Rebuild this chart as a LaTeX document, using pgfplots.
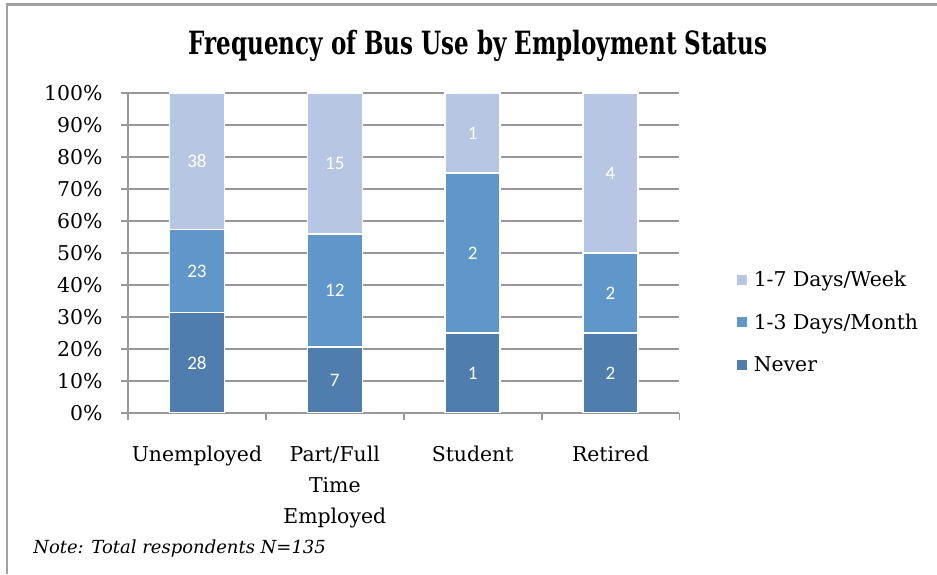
\documentclass[border=0pt]{standalone}
\usepackage{fontspec}
\setmainfont{DejaVu Serif}
\newfontfamily\titlefont{DejaVu Serif}[FakeStretch=0.72]
\newfontfamily\labelfont{Carlito}
\usepackage{pgfplots}
\pgfplotsset{compat=1.18}
\definecolor{cNever}{HTML}{4F7DAE}
\definecolor{cMonth}{HTML}{6097CA}
\definecolor{cWeek}{HTML}{B7C6E2}
\definecolor{gridgray}{HTML}{989898}
\definecolor{framegray}{HTML}{A0A0A0}
\pgfplotsset{
  mybox/.style={at={(96pt,120.75pt)}, anchor=south west,
  scale only axis, width=413.6pt, height=240pt,
  xmin=-0.5, xmax=3.5, ymin=0, ymax=100},
}
\begin{document}
\begin{tikzpicture}
\useasboundingbox (0,0) rectangle (702.75pt,430.5pt);
\draw[framegray, line width=1.9pt] (5.25pt,0) -- (5.25pt,427.1pt) -- (702.75pt,427.1pt);
\begin{axis}[
  mybox,
  ybar stacked, bar width=41.25pt,
  axis x line*=bottom, axis y line*=left,
  axis line style={-, gridgray, line width=1.4pt},
  ytick={0,10,...,100},
  yticklabels={0\%,10\%,20\%,30\%,40\%,50\%,60\%,70\%,80\%,90\%,100\%},
  ymajorgrids, grid style={gridgray, line width=1.4pt},
  tick style={gridgray, line width=1.4pt},
  tick align=outside, major tick length=5pt,
  xtick={-0.5,0.5,1.5,2.5,3.5}, xticklabels={},
  extra x ticks={0,1,2,3},
  extra x tick labels={Unemployed,{Part/Full\\Time\\Employed},Student,Retired},
  extra x tick style={major tick length=0pt, grid=none, tick style={draw=none}},
  xticklabel style={font=\fontsize{15.3}{23.25}\selectfont, align=center, anchor=north, inner sep=0pt, yshift=-24.5pt},
  yticklabel style={font=\fontsize{15.3}{18}\selectfont, anchor=east, inner sep=0pt, xshift=-14pt},
  reverse legend,
  legend style={at={(1.104,0.284)}, anchor=west, draw=none, fill=none,
    font=\fontsize{15.3}{18}\selectfont, row sep=15pt, inner sep=0pt,
    nodes={inner sep=2pt}, /tikz/every odd column/.style={column sep=3pt}},
  legend cell align=left,
  legend image code/.code={\fill[#1,draw=none] (0pt,-3.75pt) rectangle (7.5pt,3.75pt);},
]
\addplot[fill=cNever, draw=white, line width=1.2pt] coordinates {(0,31.46) (1,20.59) (2,25) (3,25)};
\addlegendentry{Never}
\addplot[fill=cMonth, draw=white, line width=1.2pt] coordinates {(0,25.84) (1,35.29) (2,50) (3,25)};
\addlegendentry{1-3 Days/Month}
\addplot[fill=cWeek, draw=white, line width=1.2pt] coordinates {(0,42.70) (1,44.12) (2,25) (3,50)};
\addlegendentry{1-7 Days/Week}
\end{axis}
\begin{axis}[mybox, hide axis,
  point meta=explicit symbolic,
  nodes near coords,
  every node near coord/.style={font=\labelfont\fontsize{14.3}{16}\selectfont, text=white, anchor=center, inner sep=0pt},
]
\addplot[draw=none] coordinates {(0,15.73) [28] (1,10.29) [7] (2,12.5) [1] (3,12.5) [2]};
\addplot[draw=none] coordinates {(0,44.38) [23] (1,38.24) [12] (2,50) [2] (3,37.5) [2]};
\addplot[draw=none] coordinates {(0,78.65) [38] (1,77.94) [15] (2,87.5) [1] (3,75) [4]};
\end{axis}
\node[anchor=base, font=\titlefont\bfseries\fontsize{24}{28}\selectfont, inner sep=0pt] at (358.5pt,389.25pt) {Frequency of Bus Use by Employment Status};
\node[anchor=base west, font=\itshape\fontsize{13.5}{15}\selectfont, inner sep=0pt] at (24.75pt,15.75pt) {Note: Total respondents N=135};
\end{tikzpicture}
\end{document}
